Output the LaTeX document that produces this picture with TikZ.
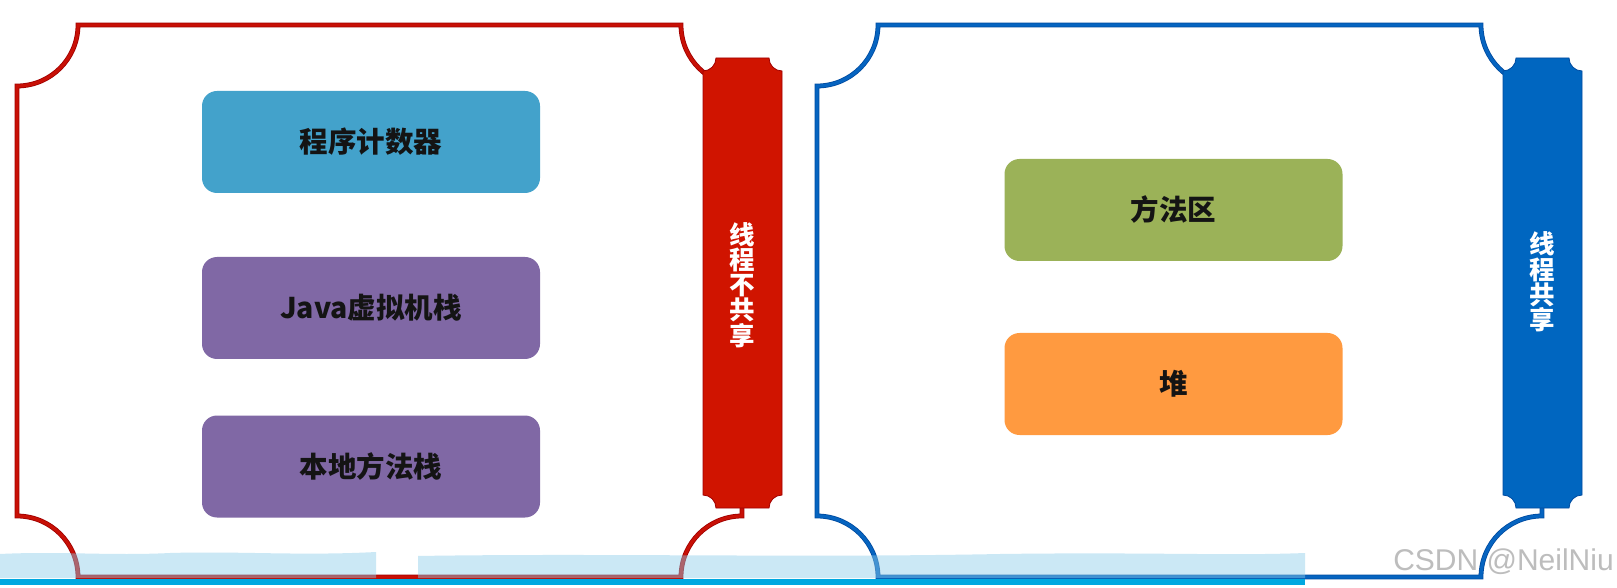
\documentclass[tikz,border=0pt]{standalone}
\usepackage{fontspec}
\newfontfamily\cjk{Noto Sans CJK SC}
\newfontfamily\wmfont{Liberation Sans}
\definecolor{framered}{RGB}{200,16,6}
\definecolor{framereddark}{RGB}{160,0,0}
\definecolor{barred}{RGB}{208,20,0}
\definecolor{frameblue}{RGB}{6,100,192}
\definecolor{frameybluedark}{RGB}{0,75,160}
\definecolor{barblue}{RGB}{0,102,192}
\definecolor{pcblue}{RGB}{67,162,203}
\definecolor{stackpurple}{RGB}{128,104,165}
\definecolor{methodgreen}{RGB}{155,178,88}
\definecolor{heaporange}{RGB}{255,154,64}
\definecolor{bandblue}{RGB}{140,205,235}
\definecolor{progcyan}{RGB}{0,168,224}
\begin{document}
\begin{tikzpicture}[x=1pt,y=1pt,
  box/.style={rounded corners=15pt, minimum width=338pt, minimum height=102pt, inner sep=0pt,
    font={\cjk\bfseries\fontsize{28.5}{28.5}\selectfont}, text=black!92},
  bartext/.style={align=center, text=white, inner sep=0pt,
    font={\cjk\bfseries\fontsize{25.5}{25.2}\selectfont}},
  frameouter/.style={line width=4.8pt},
  frameinner/.style={line width=3.2pt}]
\useasboundingbox (0,0) rectangle (1617,587);
\fill[white] (0,0) rectangle (1617,587);

% frames
\foreach \dx/\cdark/\clight in {0/framereddark/framered, 800/frameybluedark/frameblue}{
  \begin{scope}[xshift=\dx]
  \draw[frameouter,\cdark] (78,562) -- (681,562) arc[start angle=180,end angle=270,radius=61]
     -- (742,71) arc[start angle=90,end angle=180,radius=61]
     -- (78,10) arc[start angle=0,end angle=90,radius=61]
     -- (17,501) arc[start angle=270,end angle=360,radius=61] -- cycle;
  \draw[frameinner,\clight] (78,562) -- (681,562) arc[start angle=180,end angle=270,radius=61]
     -- (742,71) arc[start angle=90,end angle=180,radius=61]
     -- (78,10) arc[start angle=0,end angle=90,radius=61]
     -- (17,501) arc[start angle=270,end angle=360,radius=61] -- cycle;
  \end{scope}
}

% bars
\foreach \dx/\cfill/\cdark in {0/barred/framereddark, 800/barblue/frameybluedark}{
  \begin{scope}[xshift=\dx]
  \filldraw[fill=\cfill, draw=\cdark, line width=0.8pt]
     (716,529) -- (769,529) arc[start angle=180,end angle=270,radius=13]
     -- (782,92) arc[start angle=90,end angle=180,radius=13]
     -- (716,79) arc[start angle=0,end angle=90,radius=13]
     -- (703,516) arc[start angle=270,end angle=360,radius=13] -- cycle;
  \end{scope}
}

\node[bartext] (notshared) at (742.5,302) {线\\程\\不\\共\\享};
\node[bartext] (shared) at (1542.5,305) {线\\程\\共\\享};

% boxes
\node[box, fill=pcblue] (pc) at (371,445) {程序计数器};
\node[box, fill=stackpurple] (jvms) at (371,279) {Java虚拟机栈};
\node[box, fill=stackpurple] (nms) at (371,120.5) {本地方法栈};
\node[box, fill=methodgreen] (ma) at (1173.5,377) {方法区};
\node[box, fill=heaporange] (heap) at (1173.5,203) {堆};

% subtitle band and progress line
\fill[bandblue, fill opacity=0.45] (0,9) -- (0,33) .. controls (60,36) and (110,31) .. (170,34)
   .. controls (240,36) and (300,31) .. (376,35) -- (376,9) -- cycle;
\fill[bandblue, fill opacity=0.45] (418,9) -- (418,31) .. controls (600,34) and (800,29) .. (1000,33)
   .. controls (1150,35) and (1230,31) .. (1305,34) -- (1305,9) -- cycle;
\fill[progcyan] (0,2) rectangle (1305,8);

% watermark
\node[anchor=base east, inner sep=0pt, text=black!26, font={\wmfont\fontsize{30}{30}\selectfont}]
  (wm) at (1614,17) {CSDN @NeilNiu};
\end{tikzpicture}
\end{document}
